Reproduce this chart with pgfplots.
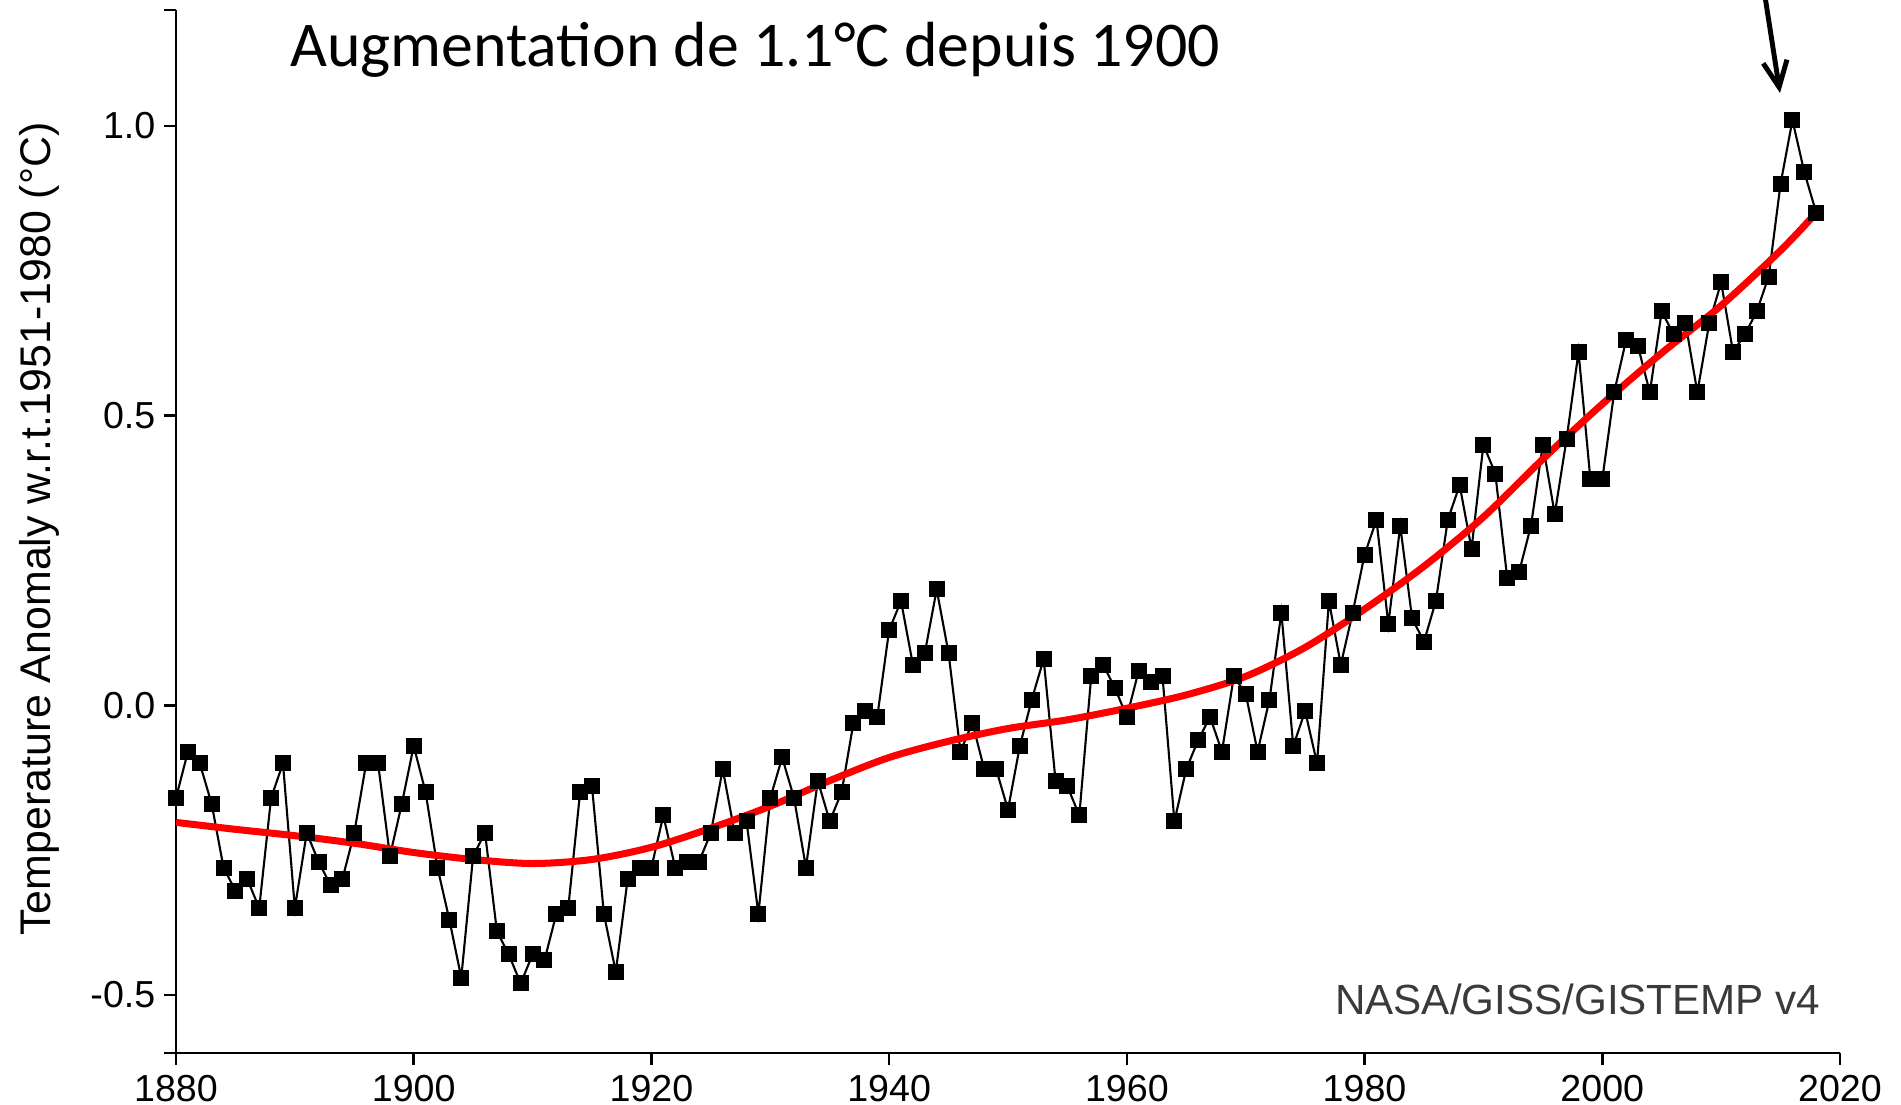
\documentclass[border=0pt]{standalone}
\usepackage{fontspec}
\setmainfont{Liberation Sans}
\newfontfamily\calibri{Carlito}
\usepackage{pgfplots}
\pgfplotsset{compat=1.18}
\usetikzlibrary{arrows.meta}
\definecolor{nasagray}{HTML}{3A3A3A}

\pgfplotstableread{
year anom
1880 -0.16
1881 -0.08
1882 -0.10
1883 -0.17
1884 -0.28
1885 -0.32
1886 -0.30
1887 -0.35
1888 -0.16
1889 -0.10
1890 -0.35
1891 -0.22
1892 -0.27
1893 -0.31
1894 -0.30
1895 -0.22
1896 -0.10
1897 -0.10
1898 -0.26
1899 -0.17
1900 -0.07
1901 -0.15
1902 -0.28
1903 -0.37
1904 -0.47
1905 -0.26
1906 -0.22
1907 -0.39
1908 -0.43
1909 -0.48
1910 -0.43
1911 -0.44
1912 -0.36
1913 -0.35
1914 -0.15
1915 -0.14
1916 -0.36
1917 -0.46
1918 -0.30
1919 -0.28
1920 -0.28
1921 -0.19
1922 -0.28
1923 -0.27
1924 -0.27
1925 -0.22
1926 -0.11
1927 -0.22
1928 -0.20
1929 -0.36
1930 -0.16
1931 -0.09
1932 -0.16
1933 -0.28
1934 -0.13
1935 -0.20
1936 -0.15
1937 -0.03
1938 -0.01
1939 -0.02
1940 0.13
1941 0.18
1942 0.07
1943 0.09
1944 0.20
1945 0.09
1946 -0.08
1947 -0.03
1948 -0.11
1949 -0.11
1950 -0.18
1951 -0.07
1952 0.01
1953 0.08
1954 -0.13
1955 -0.14
1956 -0.19
1957 0.05
1958 0.07
1959 0.03
1960 -0.02
1961 0.06
1962 0.04
1963 0.05
1964 -0.20
1965 -0.11
1966 -0.06
1967 -0.02
1968 -0.08
1969 0.05
1970 0.02
1971 -0.08
1972 0.01
1973 0.16
1974 -0.07
1975 -0.01
1976 -0.10
1977 0.18
1978 0.07
1979 0.16
1980 0.26
1981 0.32
1982 0.14
1983 0.31
1984 0.15
1985 0.11
1986 0.18
1987 0.32
1988 0.38
1989 0.27
1990 0.45
1991 0.40
1992 0.22
1993 0.23
1994 0.31
1995 0.45
1996 0.33
1997 0.46
1998 0.61
1999 0.39
2000 0.39
2001 0.54
2002 0.63
2003 0.62
2004 0.54
2005 0.68
2006 0.64
2007 0.66
2008 0.54
2009 0.66
2010 0.73
2011 0.61
2012 0.64
2013 0.68
2014 0.74
2015 0.90
2016 1.01
2017 0.92
2018 0.85
}\annual

\pgfplotstableread{
year smooth
1880 -0.202
1885 -0.214
1890 -0.225
1895 -0.238
1900 -0.254
1905 -0.266
1910 -0.273
1915 -0.266
1920 -0.245
1925 -0.212
1930 -0.174
1935 -0.130
1940 -0.090
1945 -0.062
1950 -0.040
1955 -0.025
1960 -0.005
1965 0.018
1970 0.050
1975 0.100
1980 0.166
1985 0.240
1990 0.325
1995 0.425
2000 0.520
2005 0.608
2010 0.690
2015 0.785
2018 0.850
}\lowess

\begin{document}
\begin{tikzpicture}
\useasboundingbox (0,0) rectangle (19.01,11.05);
\begin{axis}[
  at={(1.76cm,0.52cm)}, anchor=south west,
  scale only axis, width=16.64cm, height=10.43cm,
  xmin=1880, xmax=2020, ymin=-0.6, ymax=1.2,
  axis x line=bottom, axis y line=left,
  axis line style={line width=0.7pt, -},
  xtick={1880,1900,1920,1940,1960,1980,2000,2020},
  xticklabels={1880,1900,1920,1940,1960,1980,2000,2020},
  ytick={-0.6,-0.5,0,0.5,1,1.2},
  yticklabels={,-0.5,0.0,0.5,1.0,},
  tick align=outside, major tick length=0.12cm,
  tick style={line width=0.7pt, black},
  ticklabel style={font=\fontsize{10.7}{12}\selectfont},
  yticklabel style={inner sep=0pt, xshift=-0.08cm},
  xticklabel style={inner sep=0pt, yshift=-0.1cm},
]
\addplot[black, line width=0.6pt, mark=none] table[x=year,y=anom]{\annual};
\addplot[red, line width=2pt, smooth, mark=none] table[x=year,y=smooth]{\lowess};
\addplot[only marks, mark=square*, mark size=0.075cm, mark options={fill=black, draw=black, line width=0pt}] table[x=year,y=anom]{\annual};
\end{axis}
\node[anchor=base west, inner sep=0pt, font=\calibri\fontsize{18.15}{20}\selectfont] at (2.895,10.383) {Augmentation de 1.1°C depuis 1900};
\node[anchor=base east, inner sep=0pt, text=nasagray, font=\fontsize{12}{14}\selectfont] at (18.21,0.90) {NASA/GISS/GISTEMP v4};
\node[rotate=90, anchor=base, inner sep=0pt, font=\fontsize{12.2}{14}\selectfont] at (0.507,5.76) {Temperature Anomaly w.r.t.1951-1980 (°C)};
\draw[line width=1.4pt, -{Straight Barb[length=0.26cm,width=0.24cm,line width=1.4pt]}] (17.64,11.15) -- (17.80,10.12);
\end{tikzpicture}
\end{document}
